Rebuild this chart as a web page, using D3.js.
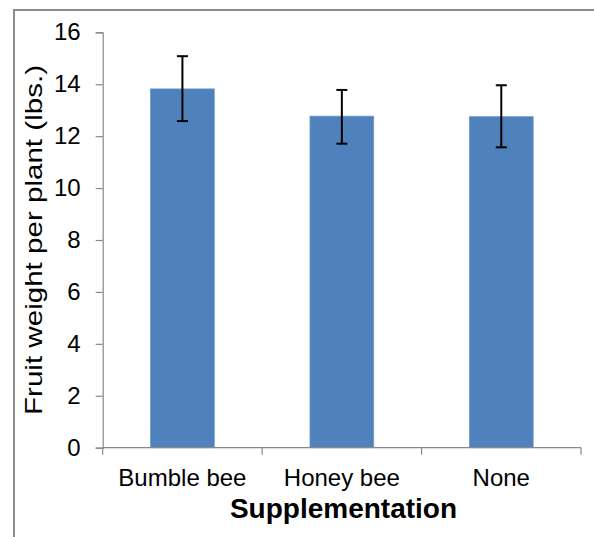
<!DOCTYPE html>
<html lang="en">
<head>
  <meta charset="UTF-8">
  <title>Fruit weight per plant</title>
  <script src="https://d3js.org/d3.v7.min.js"></script>
  <style>
    body { margin: 0; background: #fff; }
    text { font-family: "Liberation Sans", Arial, sans-serif; fill: #000; }
  </style>
</head>
<body>
  <div id="chart"></div>

  <script>
    // chart data
    const categories = ["Bumble bee", "Honey bee", "None"];
    const means = [13.82, 12.77, 12.75];
    const errUpper = [15.08, 13.78, 13.96];
    const errLower = [12.58, 11.71, 11.57];
    const yTicks = [0, 2, 4, 6, 8, 10, 12, 14, 16];

    const W = 594, H = 537;
    const margin = { top: 32.3, right: 13, bottom: 89.3, left: 102.7 };
    const width = W - margin.left - margin.right;
    const height = H - margin.top - margin.bottom;

    const svg = d3.select("#chart").append("svg")
      .attr("width", W)
      .attr("height", H);

    // outer frame (right/bottom edges fall outside the picture)
    svg.append("rect")
      .attr("x", 14)
      .attr("y", 10)
      .attr("width", W + 20)
      .attr("height", H + 20)
      .attr("fill", "none")
      .attr("stroke", "#8c8c8c")
      .attr("stroke-width", 2);

    const g = svg.append("g")
      .attr("transform", `translate(${margin.left},${margin.top})`);

    const x = d3.scaleBand()
      .domain(categories)
      .range([0, width])
      .paddingInner(0.6)
      .paddingOuter(0.3);

    const xTicks = d3.scaleBand().domain(categories).range([0, width]);

    const y = d3.scaleLinear()
      .domain([0, 16])
      .range([height, 0]);

    // bars
    g.selectAll(".bar")
      .data(categories)
      .enter().append("rect")
      .attr("class", "bar")
      .attr("x", d => x(d))
      .attr("y", (d, i) => y(means[i]))
      .attr("width", x.bandwidth())
      .attr("height", (d, i) => height - y(means[i]))
      .attr("fill", "#4f81bd")
      .attr("stroke", "#6f98c9")
      .attr("stroke-width", 0.8);

    // error bars
    const eb = g.selectAll(".err")
      .data(categories)
      .enter().append("g")
      .attr("class", "err")
      .attr("transform", d => `translate(${x(d) + x.bandwidth() / 2},0)`);

    eb.append("line")
      .attr("y1", (d, i) => y(errUpper[i]))
      .attr("y2", (d, i) => y(errLower[i]))
      .attr("stroke", "#000")
      .attr("stroke-width", 2);

    eb.append("line")
      .attr("x1", -5.5).attr("x2", 5.5)
      .attr("y1", (d, i) => y(errUpper[i]))
      .attr("y2", (d, i) => y(errUpper[i]))
      .attr("stroke", "#000")
      .attr("stroke-width", 2);

    eb.append("line")
      .attr("x1", -5.5).attr("x2", 5.5)
      .attr("y1", (d, i) => y(errLower[i]))
      .attr("y2", (d, i) => y(errLower[i]))
      .attr("stroke", "#000")
      .attr("stroke-width", 2);

    // y axis
    const yAxis = g.append("g")
      .call(d3.axisLeft(y).tickValues(yTicks).tickSize(7).tickPadding(15));
    yAxis.select(".domain").attr("stroke", "#888").attr("stroke-width", 1.2);
    yAxis.selectAll(".tick line").attr("stroke", "#888").attr("stroke-width", 1.2);
    yAxis.selectAll("text")
      .style("font-size", "24px")
      .style("font-family", "'Liberation Sans', Arial, sans-serif")
      .attr("fill", "#000");

    // x axis: ticks at band boundaries
    const xAxis = g.append("g")
      .attr("transform", `translate(0,${height})`);
    xAxis.append("line")
      .attr("x1", 0).attr("x2", width)
      .attr("stroke", "#888").attr("stroke-width", 1.2);
    const bounds = categories.map(c => xTicks(c)).concat([width]);
    xAxis.selectAll(".xtick")
      .data(bounds)
      .enter().append("line")
      .attr("class", "xtick")
      .attr("x1", d => d).attr("x2", d => d)
      .attr("y1", 0).attr("y2", 7)
      .attr("stroke", "#888").attr("stroke-width", 1.2);
    xAxis.selectAll(".xlabel")
      .data(categories)
      .enter().append("text")
      .attr("class", "xlabel")
      .attr("x", d => x(d) + x.bandwidth() / 2)
      .attr("y", 38.5)
      .attr("text-anchor", "middle")
      .style("font-size", "24px")
      .text(d => d);

    // axis titles
    svg.append("text")
      .attr("x", 343.5)
      .attr("y", 518)
      .attr("text-anchor", "middle")
      .style("font-size", "28px")
      .style("font-weight", "bold")
      .text("Supplementation");

    svg.append("text")
      .attr("transform", "translate(42.3,240) rotate(-90)")
      .attr("text-anchor", "middle")
      .attr("textLength", 350)
      .attr("lengthAdjust", "spacingAndGlyphs")
      .style("font-size", "24px")
      .text("Fruit weight per plant (lbs.)");
  </script>
</body>
</html>
